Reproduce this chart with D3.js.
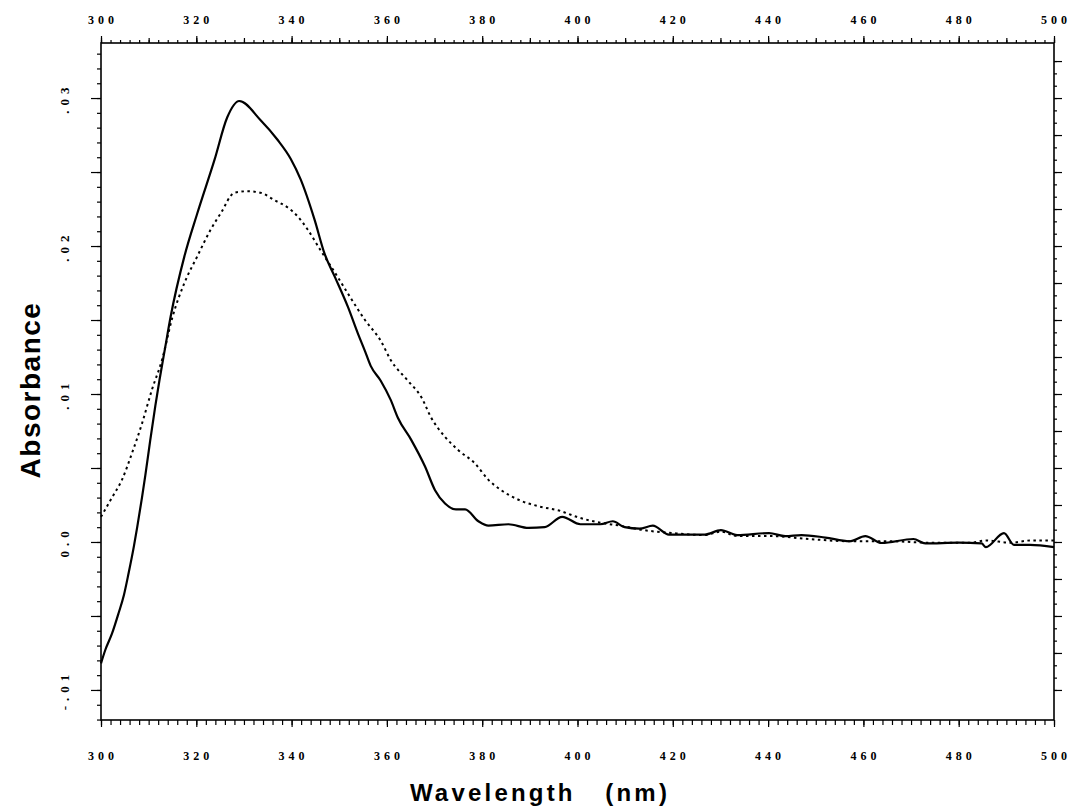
<!DOCTYPE html>
<html>
<head>
<meta charset="utf-8">
<script src="https://cdn.jsdelivr.net/npm/d3@7"></script>
<style>
  html, body { margin: 0; padding: 0; background: #fff; }
  svg { display: block; }
  .tick line, .domain { stroke: #000; }
</style>
</head>
<body>
<svg id="chart" width="1079" height="809"></svg>
<script>
// ---- data ----
const wlSolid = [300, 300.9, 302.3, 303.7, 304.8, 305.8, 306.9, 307.6, 308.6, 309.3, 310.3, 311.4, 312.3, 313.5,
  314.6, 317.5, 320.2, 323.8, 326.5, 329.0,
  333.5, 337, 339.8, 341.9, 344.8, 346.9, 349.1, 351.8, 353.9, 355.4, 356.6, 358.7, 360.8, 362.3, 365.1,
  368.0, 370.1, 372.2, 374.5, 376.4, 379.2, 381.3, 385.5, 389.7, 393.1, 396.8, 400.6, 404.8, 407.4, 409.9,
  413, 415.8, 419.2, 426.7, 430.1, 433.5, 440.2, 443.6, 447, 452, 457.1, 460.4, 463.8, 470.5, 473, 480,
  484.8, 485.7, 489.5, 491.6, 495, 500];
const absSolid = [-0.0082, -0.0073, -0.0062, -0.0048, -0.0036, -0.0021, -0.0003, 0.0010, 0.0030, 0.0045, 0.0068, 0.0092, 0.0110, 0.0132,
  0.0152, 0.0193, 0.0222, 0.0258, 0.0287, 0.0298,
  0.0285, 0.0272, 0.0259, 0.0245, 0.0218, 0.0195, 0.0179, 0.0159, 0.0141, 0.0129, 0.0119, 0.0109, 0.0096, 0.0084, 0.0069,
  0.0051, 0.0035, 0.0026, 0.0022, 0.0022, 0.0014, 0.0011, 0.0012, 0.00095, 0.0010, 0.0017, 0.0012, 0.0012, 0.0014, 0.0010,
  0.0009, 0.0011, 0.0005, 0.0005, 0.0008, 0.00047, 0.0006, 0.0004, 0.00047, 0.0003, 0.00005, 0.0004, -0.00007, 0.0002, -0.0001, -0.00005,
  -0.0001, -0.00035, 0.0006, -0.0002, -0.0002, -0.00035];

const wlDotted = [300, 302.3, 304.4, 306.5, 308.6, 310.7, 312.8, 315, 317.5, 320.2, 323, 325.1, 328, 330.7,
  333.5, 336.4, 339.2, 341.3, 343.4, 346.1, 349.1, 351.8, 355.4, 358.7, 360.8, 364.4, 367.2, 369.3, 372.2,
  375, 378.5, 381.3, 384, 388, 392, 396.4, 399.8, 404.8, 409, 413.3, 420, 426.7, 430.1, 433.5, 440.2,
  448.6, 457, 465.5, 474, 482.5, 485.7, 490.9, 495, 500];
const absDotted = [0.0017, 0.0030, 0.0042, 0.0060, 0.0080, 0.0103, 0.0123, 0.0152, 0.0175, 0.0193, 0.0211, 0.0222, 0.0236, 0.0237,
  0.0236, 0.0231, 0.0226, 0.0220, 0.0211, 0.0197, 0.0182, 0.0168, 0.0150, 0.0136, 0.0123, 0.0109, 0.0098, 0.0084, 0.0071,
  0.0062, 0.0053, 0.0042, 0.0035, 0.0028, 0.0024, 0.0021, 0.0017, 0.0013, 0.0011, 0.00083, 0.0006, 0.00047, 0.0007, 0.0004, 0.0004,
  0.0002, 0.00005, 0.00005, -0.00005, -0.00005, 0.0001, -0.00005, 0.0001, 0.0001];

const xTickValues = [300, 320, 340, 360, 380, 400, 420, 440, 460, 480, 500];
const xTickLabels = ["300", "320", "340", "360", "380", "400", "420", "440", "460", "480", "500"];
const yTickValues = [-0.01, 0.0, 0.01, 0.02, 0.03];
const yTickLabels = ["-.01", "0.0", ".01", ".02", ".03"];
const xDomain = [300, 500];
const yDomain = [-0.01203, 0.03372];
const xTitle = "Wavelength\u00a0\u00a0\u00a0(nm)";
const yTitle = "Absorbance";

// ---- layout ----
const L = 101, R = 1054, T = 43, B = 720;
const svg = d3.select("#chart");
const x = d3.scaleLinear().domain(xDomain).range([L, R]);
const y = d3.scaleLinear().domain(yDomain).range([B, T]);

const tickFont = "'Liberation Serif', serif";

function rangeStep(a, b, s) { const out = []; for (let v = a; v <= b + 1e-9; v += s) out.push(+v.toFixed(6)); return out; }

// frame
svg.append("rect").attr("x", L).attr("y", T).attr("width", R - L).attr("height", B - T)
  .attr("fill", "none").attr("stroke", "#000").attr("stroke-width", 1.6);

function addAxis(gen, tf, vals, size) {
  const g = svg.append("g").attr("transform", tf)
    .call(gen.tickValues(vals).tickSize(size).tickFormat(""));
  g.select(".domain").remove();
  g.selectAll(".tick line").attr("stroke-width", 1.2);
  return g;
}
// top axis (ticks up)
addAxis(d3.axisTop(x), `translate(0,${T})`, rangeStep(300, 500, 2), 3);
addAxis(d3.axisTop(x), `translate(0,${T})`, rangeStep(300, 500, 10), 5);
addAxis(d3.axisTop(x), `translate(0,${T})`, xTickValues, 7);
// bottom axis (ticks down)
addAxis(d3.axisBottom(x), `translate(0,${B})`, rangeStep(300, 500, 2), 5);
addAxis(d3.axisBottom(x), `translate(0,${B})`, xTickValues, 7);
// left axis (ticks left)
addAxis(d3.axisLeft(y), `translate(${L},0)`, rangeStep(-0.012, 0.033, 0.001), 4);
addAxis(d3.axisLeft(y), `translate(${L},0)`, rangeStep(-0.01, 0.03, 0.005), 10);
// right axis (ticks right)
addAxis(d3.axisRight(y), `translate(${R},0)`, rangeStep(-0.01, 0.0333, 0.0025 / 3), 3);
addAxis(d3.axisRight(y), `translate(${R},0)`, rangeStep(-0.01, 0.0325, 0.0025), 8);

// x tick labels top & bottom
xTickValues.forEach((v, i) => {
  [21, 757].forEach(py => {
    svg.append("text").attr("x", x(v) + 2).attr("y", py)
      .attr("text-anchor", "middle").attr("dominant-baseline", "middle")
      .attr("font-family", tickFont).attr("font-weight", "bold").attr("font-size", 12)
      .attr("letter-spacing", 4)
      .text(xTickLabels[i]);
  });
});
// y tick labels (rotated)
yTickValues.forEach((v, i) => {
  const px = 66, py = y(v);
  svg.append("text").attr("x", px).attr("y", py)
    .attr("transform", `rotate(-90,${px},${py})`)
    .attr("text-anchor", "middle").attr("dominant-baseline", "middle")
    .attr("font-family", tickFont).attr("font-weight", "bold").attr("font-size", 13)
    .attr("letter-spacing", 5)
    .text(yTickLabels[i]);
});

// titles
svg.append("text").attr("x", 33).attr("y", 390)
  .attr("transform", "rotate(-90,33,390)")
  .attr("text-anchor", "middle").attr("dominant-baseline", "middle")
  .attr("font-family", "'Liberation Sans', Arial, sans-serif").attr("font-weight", "bold")
  .attr("font-size", 28).attr("letter-spacing", 1.5)
  .text(yTitle);
svg.append("text").attr("x", 540).attr("y", 795)
  .attr("text-anchor", "middle").attr("dominant-baseline", "middle")
  .attr("font-family", "'Liberation Sans', Arial, sans-serif").attr("font-weight", "bold")
  .attr("font-size", 24).attr("letter-spacing", 3.2)
  .text(xTitle);

// curves
const line = d3.line().x(d => x(d[0])).y(d => y(d[1])).curve(d3.curveMonotoneX);
const solid = wlSolid.map((w, i) => [w, absSolid[i]]);
const dotted = wlDotted.map((w, i) => [w, absDotted[i]]);
svg.append("path").datum(dotted).attr("d", line)
  .attr("fill", "none").attr("stroke", "#000").attr("stroke-width", 2)
  .attr("stroke-dasharray", "2.5,3.5");
svg.append("path").datum(solid).attr("d", line)
  .attr("fill", "none").attr("stroke", "#000").attr("stroke-width", 2.2);
</script>
</body>
</html>
